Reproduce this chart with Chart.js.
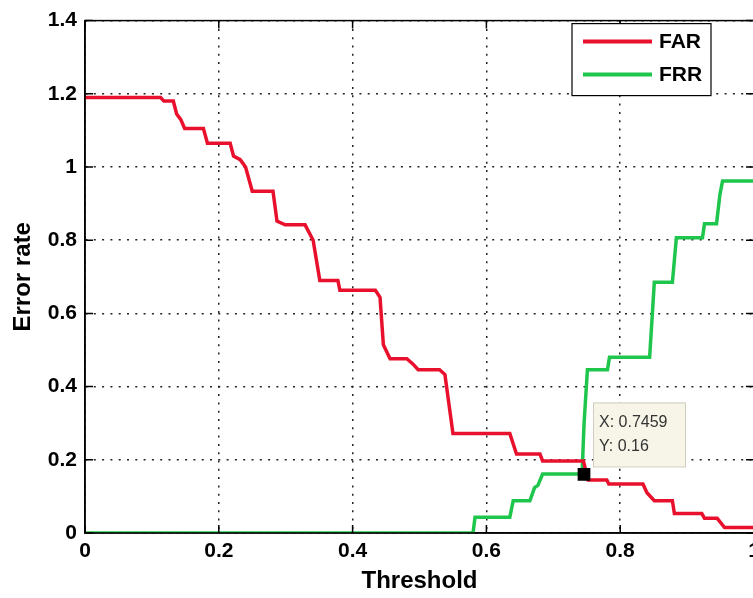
<!DOCTYPE html>
<html>
<head>
<meta charset="utf-8">
<script src="https://cdn.jsdelivr.net/npm/chart.js@4.4.1/dist/chart.umd.min.js"></script>
<style>
  html, body { margin: 0; padding: 0; background: #fff; overflow: hidden; }
  canvas { display: block; }
</style>
</head>
<body>
<canvas id="myChart" width="770" height="598"></canvas>
<script>
   // FAR curve (threshold -> error rate)
   const farX = [0, 0.113, 0.118, 0.132, 0.137, 0.143, 0.149, 0.177, 0.183, 0.217,
                 0.222, 0.232, 0.240, 0.250, 0.281, 0.287, 0.299, 0.329, 0.341, 0.351,
                 0.378, 0.381, 0.434, 0.441, 0.446, 0.456, 0.481, 0.490, 0.498, 0.530,
                 0.538, 0.550, 0.635, 0.645, 0.680, 0.684, 0.745, 0.752, 0.780, 0.783,
                 0.834, 0.840, 0.851, 0.878, 0.881, 0.922, 0.926, 0.945, 0.956, 1.0];
   const farY = [1.19, 1.19, 1.18, 1.18, 1.145, 1.13, 1.105, 1.105, 1.065, 1.065,
                 1.03, 1.02, 1.0, 0.934, 0.934, 0.852, 0.842, 0.842, 0.80, 0.69,
                 0.69, 0.663, 0.663, 0.644, 0.514, 0.476, 0.476, 0.462, 0.446, 0.446,
                 0.433, 0.272, 0.272, 0.216, 0.216, 0.197, 0.197, 0.145, 0.145, 0.134,
                 0.134, 0.11, 0.088, 0.088, 0.053, 0.053, 0.04, 0.04, 0.015, 0.015];

   // FRR curve
   const frrX = [0, 0.580, 0.583, 0.635, 0.640, 0.665, 0.672, 0.677, 0.684, 0.743,
                 0.746, 0.751, 0.781, 0.784, 0.844, 0.851, 0.878, 0.884, 0.923, 0.926,
                 0.944, 0.949, 0.953, 1.0];
   const frrY = [0, 0, 0.043, 0.043, 0.088, 0.088, 0.124, 0.13, 0.161, 0.161,
                 0.30, 0.446, 0.446, 0.48, 0.48, 0.685, 0.685, 0.807, 0.807, 0.845,
                 0.845, 0.924, 0.962, 0.962];

   const xTicks = [0, 0.2, 0.4, 0.6, 0.8, 1];
   const yTicks = [0, 0.2, 0.4, 0.6, 0.8, 1, 1.2, 1.4];

   // data cursor
   const tipX = 0.7459;
   const tipY = 0.16;

   const red = '#e8102c';
   const green = '#1fc64c';
   const tickFont = { family: "'Liberation Sans', Arial, sans-serif", size: 21, weight: 'bold' };
   const titleFont = { family: "'Liberation Sans', Arial, sans-serif", size: 24, weight: 'bold' };

   const toPts = (xs, ys) => xs.map((v, i) => ({ x: v, y: ys[i] }));
   const fmt = v => String(Math.round(v * 10) / 10);

   //    box, inward ticks, legend and datatip like a matlab figure
   const frame = {
       id: 'frame',
       afterDraw(chart) {
           const { ctx, chartArea: a, scales: { x, y } } = chart;
           ctx.save();
           ctx.strokeStyle = '#000';
           ctx.lineWidth = 1.5;
           ctx.strokeRect(a.left, a.top, a.right - a.left, a.bottom - a.top);
           ctx.beginPath();
           xTicks.forEach(v => {
               const px = x.getPixelForValue(v);
               ctx.moveTo(px, a.bottom); ctx.lineTo(px, a.bottom - 8);
               ctx.moveTo(px, a.top); ctx.lineTo(px, a.top + 8);
           });
           yTicks.forEach(v => {
               const py = y.getPixelForValue(v);
               ctx.moveTo(a.left, py); ctx.lineTo(a.left + 8, py);
               ctx.moveTo(a.right, py); ctx.lineTo(a.right - 8, py);
           });
           ctx.stroke();

           // datatip
           const tx = x.getPixelForValue(tipX);
           const ty = y.getPixelForValue(tipY);
           const bx = tx + 9, by = ty - 72;
           ctx.fillStyle = '#f7f5e8';
           ctx.strokeStyle = '#cfcdbb';
           ctx.lineWidth = 1;
           ctx.fillRect(bx, by, 92, 64);
           ctx.strokeRect(bx + 0.5, by + 0.5, 92, 64);
           ctx.fillStyle = '#333';
           ctx.font = "16px 'Liberation Sans', Arial, sans-serif";
           ctx.textBaseline = 'alphabetic';
           ctx.fillText('X: ' + tipX, bx + 6, ty - 47);
           ctx.fillText('Y: ' + tipY, bx + 6, ty - 23);

           // legend
           const items = chart.data.datasets.filter(d => d.label);
           const lx = a.right - 182, ly = a.top + 3;
           ctx.fillStyle = '#fff';
           ctx.fillRect(lx, ly, 139, 72);
           ctx.strokeStyle = '#000';
           ctx.lineWidth = 1.2;
           ctx.strokeRect(lx, ly, 139, 72);
           ctx.font = "bold 21px 'Liberation Sans', Arial, sans-serif";
           ctx.textBaseline = 'middle';
           items.forEach((d, i) => {
               const rowY = ly + 18 + i * 33;
               ctx.strokeStyle = d.borderColor;
               ctx.lineWidth = 4;
               ctx.beginPath();
               ctx.moveTo(lx + 11, rowY); ctx.lineTo(lx + 80, rowY);
               ctx.stroke();
               ctx.fillStyle = '#000';
               ctx.fillText(d.label, lx + 87, rowY + 1);
           });
           ctx.restore();
       }
   };

   const config = {
       type: 'line',
       data: {
           datasets: [{
               label: '',
               data: [{ x: tipX, y: tipY }],
               showLine: false,
               pointStyle: 'rect',
               pointRadius: 9,
               backgroundColor: '#000',
               borderColor: '#000',
               borderWidth: 0
           }, {
               label: 'FAR',
               data: toPts(farX, farY),
               borderColor: red,
               borderWidth: 3.5,
               pointRadius: 0,
               tension: 0,
               fill: false
           }, {
               label: 'FRR',
               data: toPts(frrX, frrY),
               borderColor: green,
               borderWidth: 3.5,
               pointRadius: 0,
               tension: 0,
               fill: false
           }]
       },
       options: {
           responsive: false,
           animation: false,
           layout: { padding: { top: 16, right: 16, left: 0, bottom: 0 } },
           plugins: {
               legend: { display: false },
               tooltip: { enabled: false }
           },
           scales: {
               x: {
                   type: 'linear',
                   min: 0,
                   max: 1,
                   afterFit: s => { s.height = 65; },
                   afterBuildTicks: s => { s.ticks = xTicks.map(v => ({ value: v })); },
                   ticks: { callback: fmt, font: tickFont, color: '#000', padding: 6, maxRotation: 0, autoSkip: false },
                   grid: { color: '#222', lineWidth: 1.5, drawTicks: false },
                   border: { display: true, color: '#000', width: 1.5, dash: [2, 6.3] },
                   title: { display: true, text: 'Threshold', font: titleFont, color: '#000', padding: { top: 0, bottom: 2 } }
               },
               y: {
                   min: 0,
                   max: 1.4,
                   afterFit: s => { s.width = 85; },
                   afterBuildTicks: s => { s.ticks = yTicks.map(v => ({ value: v })); },
                   ticks: { callback: fmt, font: tickFont, color: '#000', padding: 8, autoSkip: false },
                   grid: { color: '#222', lineWidth: 1.5, drawTicks: false },
                   border: { display: true, color: '#000', width: 1.5, dash: [2, 6.3] },
                   title: { display: true, text: 'Error rate', font: titleFont, color: '#000', padding: { top: 9, bottom: 0 } }
               }
           }
       },
       plugins: [frame]
   };

   new Chart(document.getElementById('myChart'), config);
</script>
</body>
</html>
